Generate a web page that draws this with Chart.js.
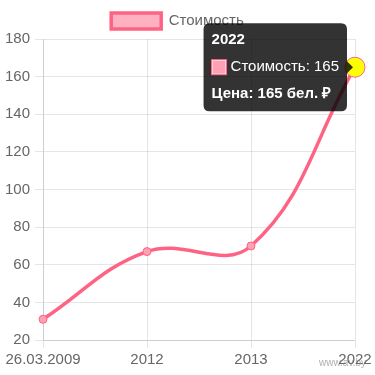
<!DOCTYPE html>
<html>
<head>
<meta charset="utf-8">
<script src="https://cdn.jsdelivr.net/npm/chart.js@4"></script>
<style>
    html, body { margin: 0; padding: 0; background: #fff; }
    #wrap { position: relative; width: 375px; height: 375px; }
    #marca { position: absolute; right: 9px; bottom: 7px; font: 10px "Liberation Sans", Arial, sans-serif; color: rgba(120,120,120,0.6); }
</style>
</head>
<body>
<div id="wrap">
    <canvas id="grafica"></canvas>
    <span id="marca">www.av.by</span>
</div>
<script>
// datos
const etiquetas = ["26.03.2009", "2012", "2013", "2022"];
const precios = [31, 67, 70, 165];
const nombreSerie = "Стоимость";

Chart.defaults.font.family = "'Liberation Sans', Arial, sans-serif";
Chart.defaults.font.size = 15;
Chart.defaults.color = "#666";

const ctx = document.getElementById("grafica").getContext("2d");

const chart = new Chart(ctx, {
    type: "line",
    data: {
        labels: etiquetas,
        datasets: [{
            label: nombreSerie,
            data: precios,
            borderColor: "rgb(255, 99, 132)",
            backgroundColor: "rgba(255, 99, 132, 0.5)",
            borderWidth: 3.5,
            tension: 0.4,
            fill: false,
            pointRadius: 4,
            pointBorderWidth: 1,
            pointBackgroundColor: "rgba(255, 160, 180, 1)",
            pointHoverRadius: 10,
            pointHoverBorderWidth: 1,
            pointHoverBackgroundColor: "yellow",
            pointHoverBorderColor: "rgb(255, 99, 132)"
        }]
    },
    options: {
        responsive: true,
        maintainAspectRatio: false,
        animation: false,
        layout: { padding: { top: 2, right: 20, bottom: 3 } },
        plugins: {
            legend: {
                labels: {
                    boxWidth: 50,
                    boxHeight: 16,
                    color: "#666",
                    padding: 11
                }
            },
            tooltip: {
                backgroundColor: "rgba(0,0,0,0.8)",
                titleFont: { size: 15, weight: "bold" },
                bodyFont: { size: 15 },
                footerFont: { size: 15, weight: "bold" },
                padding: 8,
                caretSize: 6,
                cornerRadius: 6,
                titleMarginBottom: 9,
                footerMarginTop: 9,
                boxPadding: 2,
                callbacks: {
                    footer: (items) => "Цена: " + items[0].parsed.y + " бел. ₽"
                }
            }
        },
        scales: {
            x: {
                grid: { color: "rgba(0,0,0,0.1)" },
                ticks: { color: "#666", maxRotation: 0, padding: 3 }
            },
            y: {
                min: 20,
                max: 180,
                grid: { color: "rgba(0,0,0,0.1)" },
                ticks: { stepSize: 20, color: "#666", padding: 5 }
            }
        }
    }
});

// tooltip activo en el último punto
const activos = [{ datasetIndex: 0, index: precios.length - 1 }];
const punto = chart.getDatasetMeta(0).data[precios.length - 1];
chart.setActiveElements(activos);
chart.tooltip.setActiveElements(activos, { x: punto.x, y: punto.y });
chart.update("none");
</script>
</body>
</html>
